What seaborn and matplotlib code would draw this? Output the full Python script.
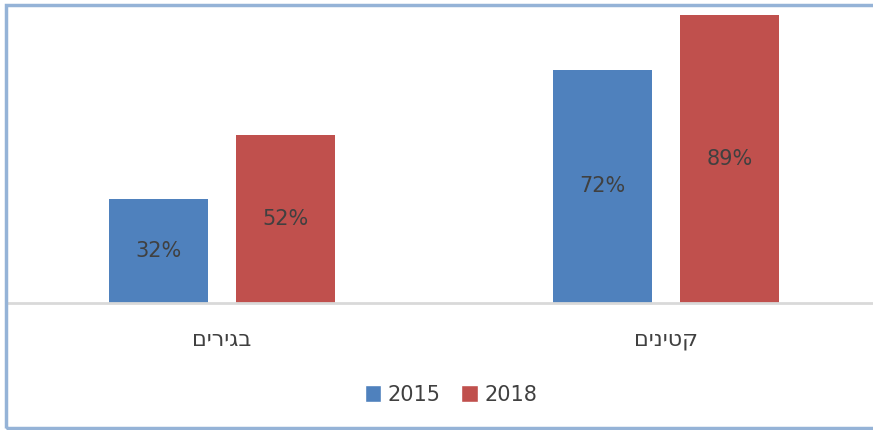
import matplotlib
matplotlib.use("Agg")
import matplotlib.pyplot as plt
import seaborn as sns
import pandas as pd
from matplotlib.patches import Rectangle, Patch

categories = ["בגירים", "קטינים"]
years = ["2015", "2018"]
values_2015 = [32, 72]
values_2018 = [52, 89]
colors = ["#4F81BD", "#C0504D"]

df = pd.DataFrame({
    "category": categories * 2,
    "year": [years[0]] * 2 + [years[1]] * 2,
    "value": values_2015 + values_2018,
})

sns.set_style("white")
plt.rcParams["font.family"] = ["DejaVu Sans"]

W, H = 873, 430
fig = plt.figure(figsize=(W / 100, H / 100), dpi=100)
ax = fig.add_axes([0, 1 - 303 / H, 888 / W, 291.6 / H])

sns.barplot(data=df, x="category", y="value", hue="year", palette=colors,
            width=0.573, gap=0.22, ax=ax, legend=False, saturation=1,
            edgecolor="none", order=categories, hue_order=years)

ax.set_xlim(-0.5, 1.5)
ax.set_ylim(0, 90)
for s in ax.spines.values():
    s.set_visible(False)
ax.set_yticks([])
ax.set_xticks([])
ax.set_xlabel("")
ax.set_ylabel("")
ax.plot([6 / 444 - 0.5, 1.5], [0, 0], color="#D9D9D9", lw=2, clip_on=False)

for cont in ax.containers:
    ax.bar_label(cont, labels=[f"{v:.0f}%" for v in cont.datavalues],
                 label_type="center", color="#404040", fontsize=15)

# category labels (Hebrew, reversed for visual right-to-left order)
for i, c in enumerate(categories):
    ax.text(i, -37 / 3.24, c[::-1], ha="center", va="center",
            fontsize=16, color="#404040")

handles = [Patch(facecolor=colors[0], label=years[0]),
           Patch(facecolor=colors[1], label=years[1])]
fig.legend(handles=handles, loc="center", bbox_to_anchor=(451 / W, 1 - 395 / H),
           ncol=2, frameon=False, fontsize=15, handlelength=0.8, handleheight=0.9,
           handletextpad=0.3, columnspacing=1.0, labelcolor="#404040")

fig.patches.append(Rectangle((6 / W, 2 / H), 1.0, 1 - 7 / H, transform=fig.transFigure,
                             fill=False, edgecolor="#95B3D7", lw=2.5, clip_on=False))

fig.savefig("out.png", dpi=100)
